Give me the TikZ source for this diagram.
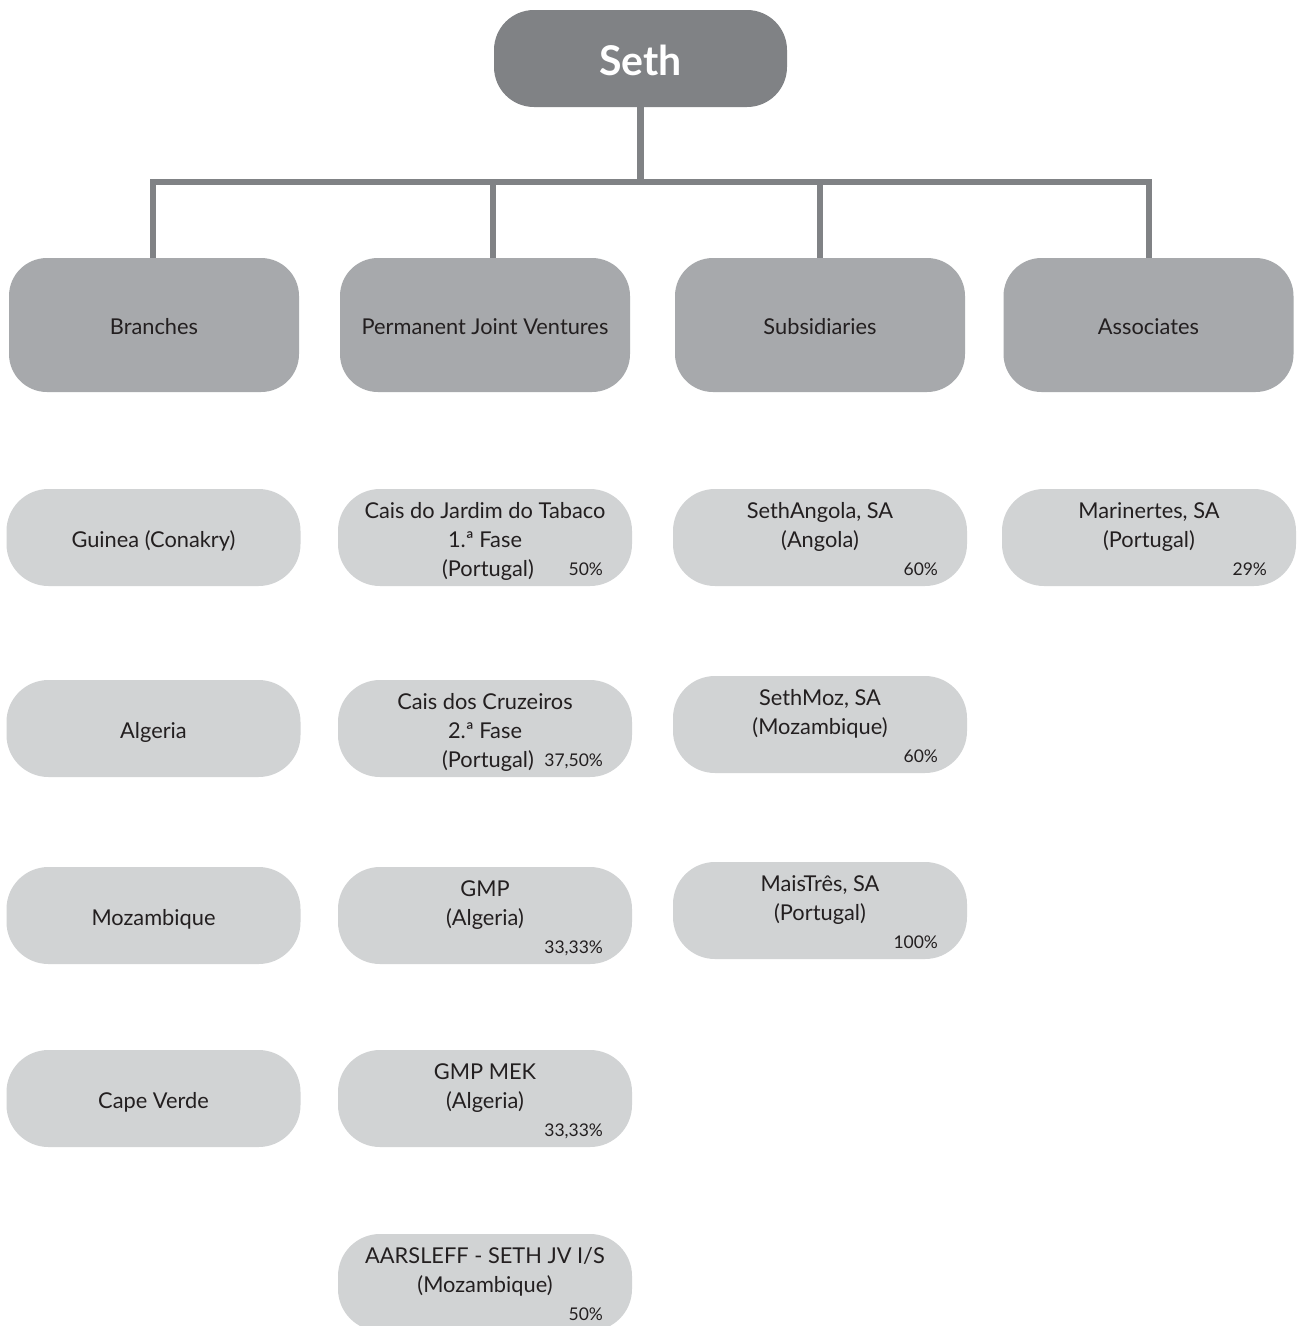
\documentclass[tikz,border=0pt]{standalone}
\usepackage{fontspec}
\setmainfont{Lato}
\definecolor{dark}{HTML}{808285}
\definecolor{mid}{HTML}{A7A9AC}
\definecolor{light}{HTML}{D1D3D4}
\definecolor{ink}{HTML}{231F20}
\tikzset{
 conn/.style={draw=dark, line width=6.5pt},
 topbox/.style={fill=dark, rounded corners=40pt, minimum width=293pt, minimum height=97pt, inner sep=0pt},
 toptext/.style={anchor=base, text=white, inner sep=0pt, font=\bfseries\fontsize{41}{42}\selectfont},
 catbox/.style={fill=mid, rounded corners=38pt, minimum width=290pt, minimum height=134pt, inner sep=0pt},
 itembox/.style={fill=light, rounded corners=42pt, minimum width=294pt, minimum height=97pt, inner sep=0pt},
 lbl/.style={anchor=base, text=ink, font=\fontsize{21.8}{24}\selectfont, inner sep=0pt},
 pct/.style={anchor=base east, text=ink, font=\fontsize{17.5}{19}\selectfont, inner sep=0pt},
}
\newcommand{\lineA}[2]{\node[lbl] at ([yshift=-30pt]#1.north) {#2};}
\newcommand{\lineB}[2]{\node[lbl] at ([yshift=-59pt]#1.north) {#2};}
\newcommand{\lineOne}[2]{\node[lbl] at ([yshift=-58.5pt]#1.north) {#2};}
\newcommand{\pctof}[2]{\node[pct] at ([xshift=-29pt,yshift=-87pt]#1.north east) {#2};}
\begin{document}
\begin{tikzpicture}[x=1pt,y=-1pt]
\useasboundingbox (0,0) rectangle (1297,1326);
\fill[white] (0,0) rectangle (1297,1326);

% top
\node[topbox] (seth) at (640.5,58.5) {};
\node[toptext] at ([yshift=-66pt]seth.north) {Seth};

% categories
\node[catbox] (br)  at (154,325)    {};
\node[catbox] (pjv) at (485,325)    {};
\node[catbox] (sub) at (820,325)    {};
\node[catbox] (as)  at (1148.5,325) {};
\node[lbl] at ([yshift=-77pt]br.north)  {Branches};
\node[lbl] at ([yshift=-77pt]pjv.north) {Permanent Joint Ventures};
\node[lbl] at ([yshift=-77pt]sub.north) {Subsidiaries};
\node[lbl] at ([yshift=-77pt]as.north)  {Associates};

% connectors
\coordinate (hub) at (640.5,182);
\draw[conn] (seth.south) -- (hub);
\draw[conn] ([xshift=-1pt]br.north) |- (hub) -| ([xshift=0.5pt]as.north);
\draw[conn] ([xshift=8pt]pjv.north) -- ([xshift=8pt]pjv.north |- hub);
\draw[conn] (sub.north) -- (sub.north |- hub);

% column 1: branches
\node[itembox] (b1) at (153.5,537.5)  {};
\node[itembox] (b2) at (153.5,728.5)  {};
\node[itembox] (b3) at (153.5,915.5)  {};
\node[itembox] (b4) at (153.5,1098.5) {};
\lineOne{b1}{Guinea (Conakry)}
\lineOne{b2}{Algeria}
\lineOne{b3}{Mozambique}
\lineOne{b4}{Cape Verde}

% column 2: joint ventures
\node[itembox] (j1) at (485,537.5)  {};
\node[itembox] (j2) at (485,728.5)  {};
\node[itembox] (j3) at (485,915.5)  {};
\node[itembox] (j4) at (485,1098.5) {};
\node[itembox] (j5) at (485,1282.5) {};
\lineA{j1}{Cais do Jardim do Tabaco}
\lineB{j1}{1.ª Fase}
\node[lbl] at ([xshift=3pt,yshift=-88pt]j1.north) {(Portugal)};
\pctof{j1}{50\%}
\lineA{j2}{Cais dos Cruzeiros}
\lineB{j2}{2.ª Fase}
\node[lbl] at ([xshift=3pt,yshift=-88pt]j2.north) {(Portugal)};
\pctof{j2}{37,50\%}
\lineA{j3}{GMP}
\lineB{j3}{(Algeria)}
\pctof{j3}{33,33\%}
\lineA{j4}{GMP MEK}
\lineB{j4}{(Algeria)}
\pctof{j4}{33,33\%}
\lineA{j5}{AARSLEFF - SETH JV I/S}
\lineB{j5}{(Mozambique)}
\pctof{j5}{50\%}

% column 3: subsidiaries
\node[itembox] (s1) at (820,537.5) {};
\node[itembox] (s2) at (820,724.5) {};
\node[itembox] (s3) at (820,910.5) {};
\lineA{s1}{SethAngola, SA}
\lineB{s1}{(Angola)}
\pctof{s1}{60\%}
\lineA{s2}{SethMoz, SA}
\lineB{s2}{(Mozambique)}
\pctof{s2}{60\%}
\lineA{s3}{MaisTrês, SA}
\lineB{s3}{(Portugal)}
\pctof{s3}{100\%}

% column 4: associates
\node[itembox] (a1) at (1149,537.5) {};
\lineA{a1}{Marinertes, SA}
\lineB{a1}{(Portugal)}
\pctof{a1}{29\%}
\end{tikzpicture}
\end{document}
